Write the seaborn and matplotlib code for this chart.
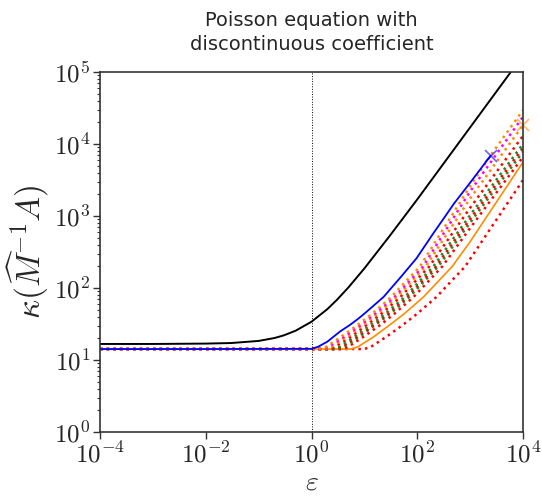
import matplotlib
matplotlib.use("Agg")
import matplotlib.pyplot as plt
import matplotlib.ticker as mticker
import seaborn as sns
import pandas as pd

# ---------------- data ----------------
eps_black = [1e-4, 1e-3, 1e-2, 0.03, 0.1, 0.2, 0.3, 0.5, 1, 2, 3, 5, 10, 30, 100, 300, 1000, 3000, 1e4]
kap_black = [16.7, 16.7, 16.9, 17.2, 18.4, 20.2, 22, 25.5, 34, 51, 68, 102, 187, 527, 1700, 5100, 17000, 51000, 170000]

eps_blue = [1e-4, 1e-2, 1, 1.34, 2, 2.6, 3.5, 5.3, 7.5, 10, 15, 23, 50, 97, 200, 500, 1000, 2450]
kap_blue = [14.2, 14.2, 14.3, 15.3, 18, 21, 25, 30.6, 37, 44, 57, 75, 145, 259, 570, 1500, 2900, 6900]

eps_orange1 = [1e-4, 1.4, 1.9, 3.6, 7.4, 14, 32, 112, 1000, 2450, 1e4]
kap_orange1 = [14.2, 14.2, 15.3, 21, 30.6, 44, 75, 198, 2600, 7000, 29500]

eps_magenta = [1e-4, 1.6, 2.1, 4.2, 8.5, 16, 37, 128, 1000, 1e4]
kap_magenta = [14.2, 14.2, 15.3, 21, 30.6, 44, 75, 198, 2200, 24000]

eps_orange2 = [1e-4, 1.8, 2.4, 4.7, 9.5, 18, 41, 144, 1000, 1e4]
kap_orange2 = [14.2, 14.2, 15.3, 21, 30.6, 44, 75, 198, 1750, 18300]

eps_red1 = [1e-4, 2.1, 2.8, 5.5, 11, 21, 48, 168, 1000, 1e4]
kap_red1 = [14.2, 14.2, 15.3, 21, 30.6, 44, 75, 198, 1300, 13000]

eps_green1 = [1e-4, 2.5, 3.4, 6.5, 13, 25, 58, 200, 1000, 1e4]
kap_green1 = [14.2, 14.2, 15.3, 21, 30.6, 44, 75, 198, 1030, 10000]

eps_red2 = [1e-4, 2.8, 3.8, 7.3, 15, 28, 64, 224, 1000, 1e4]
kap_red2 = [14.2, 14.2, 15.3, 21, 30.6, 44, 75, 198, 910, 8800]

eps_green2 = [1e-4, 3.1, 4.2, 8.1, 16, 31, 71, 248, 1000, 1e4]
kap_green2 = [14.2, 14.2, 15.3, 21, 30.6, 44, 75, 198, 810, 7800]

eps_red3 = [1e-4, 3.7, 5, 9.6, 20, 37, 85, 296, 1000, 1e4]
kap_red3 = [14.2, 14.2, 15.3, 21, 30.6, 44, 75, 198, 680, 6600]

eps_orange3 = [1e-4, 5.7, 7.6, 15, 30, 57, 131, 456, 1000, 1e4]
kap_orange3 = [14.2, 14.2, 15.3, 21, 30.6, 44, 75, 198, 440, 5600]

eps_red4 = [1e-4, 10, 13.4, 26, 53, 100, 230, 800, 1e4]
kap_red4 = [14.2, 14.2, 15.3, 21, 30.6, 44, 75, 198, 3160]

x_ticks = [1e-4, 1e-2, 1, 1e2, 1e4]
x_tick_labels = [r"$10^{-4}$", r"$10^{-2}$", r"$10^{0}$", r"$10^{2}$", r"$10^{4}$"]
y_ticks = [1, 10, 100, 1e3, 1e4, 1e5]
y_tick_labels = [r"$10^{0}$", r"$10^{1}$", r"$10^{2}$", r"$10^{3}$", r"$10^{4}$", r"$10^{5}$"]
title_text = "Poisson equation with\ndiscontinuous coefficient"
xlabel_text = r"$\varepsilon$"
ylabel_text = r"$\kappa(\widehat{M}^{-1}A)$"

# ---------------- plotting ----------------
sns.set_style("white")
plt.rcParams["mathtext.fontset"] = "cm"
plt.rcParams["font.family"] = ["DejaVu Sans"]

fig = plt.figure(figsize=(5.42, 4.97), dpi=100)
ax = fig.add_axes([100 / 542, 1 - 432 / 497, 423 / 542, 360 / 497])

series = [
    (eps_red4, kap_red4, "red", ":", 1.8),
    (eps_orange3, kap_orange3, "darkorange", "-", 1.2),
    (eps_red3, kap_red3, "red", ":", 1.8),
    (eps_green2, kap_green2, "forestgreen", ":", 1.8),
    (eps_red2, kap_red2, "red", ":", 1.8),
    (eps_green1, kap_green1, "forestgreen", ":", 1.8),
    (eps_red1, kap_red1, "red", ":", 1.8),
    (eps_orange2, kap_orange2, "darkorange", ":", 1.8),
    (eps_magenta, kap_magenta, "magenta", ":", 1.8),
    (eps_orange1, kap_orange1, "darkorange", ":", 1.8),
]
for ex, ky, col, ls, lw in series:
    df = pd.DataFrame({"eps": ex, "kappa": ky})
    sns.lineplot(data=df, x="eps", y="kappa", ax=ax, color=col, linestyle=ls,
                 linewidth=lw, estimator=None, sort=True)

df_b = pd.DataFrame({"eps": eps_blue, "kappa": kap_blue})
sns.lineplot(data=df_b, x="eps", y="kappa", ax=ax, color="blue", linewidth=1.3,
             estimator=None)
df_k = pd.DataFrame({"eps": eps_black, "kappa": kap_black})
sns.lineplot(data=df_k, x="eps", y="kappa", ax=ax, color="black", linewidth=1.4,
             estimator=None)

# end markers
ax.plot([eps_blue[-1]], [kap_blue[-1]], marker="x", color="blue", ms=8, mew=1.2,
        alpha=0.6, clip_on=False)
ax.plot([eps_orange2[-1]], [kap_orange2[-1]], marker="x", color="darkorange", ms=8,
        mew=1.2, alpha=0.6, clip_on=False)

ax.axvline(1.0, color="black", linestyle=":", linewidth=0.7)

ax.set_xscale("log")
ax.set_yscale("log")
ax.set_xlim(1e-4, 1e4)
ax.set_ylim(1, 1e5)
ax.xaxis.set_major_locator(mticker.FixedLocator(x_ticks))
ax.xaxis.set_major_formatter(mticker.FixedFormatter(x_tick_labels))
ax.yaxis.set_major_locator(mticker.FixedLocator(y_ticks))
ax.yaxis.set_major_formatter(mticker.FixedFormatter(y_tick_labels))
ax.xaxis.set_minor_locator(mticker.NullLocator())
ax.yaxis.set_minor_locator(mticker.LogLocator(base=10, subs=range(2, 10), numticks=20))
ax.yaxis.set_minor_formatter(mticker.NullFormatter())
ax.tick_params(axis="both", which="major", direction="out", length=5, width=1,
               labelsize=18, bottom=True, left=True, color="0.2", pad=2)
ax.tick_params(axis="y", which="minor", direction="out", length=2, width=0.8,
               left=True, color="0.2")

for s in ax.spines.values():
    s.set_color("0.2")
    s.set_linewidth(1.2)

ax.set_xlabel(xlabel_text, fontsize=20, labelpad=0)
ax.set_ylabel(ylabel_text, fontsize=24, labelpad=2)
ax.set_title(title_text, fontsize=14, pad=16, linespacing=1.35)

fig.savefig("out.png", dpi=100)
